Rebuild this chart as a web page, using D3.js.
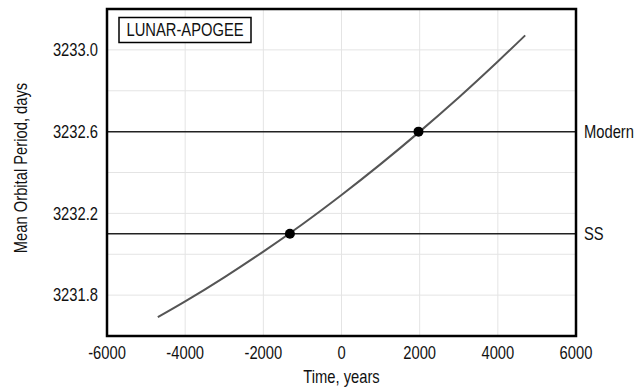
<!DOCTYPE html>
<html>
<head>
    <script src="https://cdn.jsdelivr.net/npm/d3@7/dist/d3.min.js" type="text/javascript"></script>
    <style>
        body { margin: 0; background: #fff; }
        text { font-family: "Liberation Sans", Arial, sans-serif; font-size: 18px; fill: #111; }
    </style>
</head>
<body>
    <div id="viz"></div>
    <script type="text/javascript">

    // curve (year, mean period in days)
    var years   = [-4700, -4000, -3000, -2000, -1000, 0, 1000, 2000, 3000, 4000, 4700];
    var periods = [3231.692, 3231.769, 3231.887, 3232.013, 3232.147, 3232.290,
                   3232.441, 3232.600, 3232.767, 3232.943, 3233.071];

    // reference levels and the points where the curve crosses them
    var refNames  = ["Modern", "SS"];
    var refValues = [3232.6, 3232.1];
    var refYears  = [1970, -1320];

    var xTicks = [-6000, -4000, -2000, 0, 2000, 4000, 6000];
    var yTicks = [3231.8, 3232.2, 3232.6, 3233.0];
    var yGrid  = [3231.8, 3232.0, 3232.2, 3232.4, 3232.6, 3232.8, 3233.0];

    var width = 642, height = 391;
    var pLeft = 107, pRight = 576, pTop = 9, pBottom = 336;
    var narrow = 0.82; // the reference uses a narrow sans

    var x = d3.scaleLinear().domain([-6000, 6000]).range([pLeft, pRight]);
    var y = d3.scaleLinear().domain([3231.6, 3233.2]).range([pBottom, pTop]);

    var svg = d3.select("#viz")
        .append("svg")
        .attr("width", width)
        .attr("height", height);

    function label(g, tx, ty, str, anchor, rot) {
        return g.append("text")
            .attr("transform", "translate(" + tx + "," + ty + ")" + (rot ? " rotate(" + rot + ")" : "") + " scale(" + narrow + ",1)")
            .attr("dy", "0.35em")
            .attr("text-anchor", anchor || "start")
            .text(str);
    }

    // grid
    svg.append("g").selectAll("line")
        .data(xTicks.slice(1, -1))
        .enter().append("line")
        .attr("x1", function(d) { return x(d); })
        .attr("x2", function(d) { return x(d); })
        .attr("y1", pTop).attr("y2", pBottom)
        .style("stroke", "#e4e4e4").style("stroke-width", 1);

    svg.append("g").selectAll("line")
        .data(yGrid)
        .enter().append("line")
        .attr("x1", pLeft).attr("x2", pRight)
        .attr("y1", function(d) { return y(d); })
        .attr("y2", function(d) { return y(d); })
        .style("stroke", "#e4e4e4").style("stroke-width", 1);

    // reference lines
    svg.append("g").selectAll("line")
        .data(refValues)
        .enter().append("line")
        .attr("x1", pLeft).attr("x2", pRight)
        .attr("y1", function(d) { return y(d); })
        .attr("y2", function(d) { return y(d); })
        .style("stroke", "#222").style("stroke-width", 1.5);

    var refG = svg.append("g");
    refNames.forEach(function(d, i) {
        label(refG, pRight + 8, y(refValues[i]), d);
    });

    // curve
    var line = d3.line()
        .x(function(d, i) { return x(years[i]); })
        .y(function(d) { return y(d); })
        .curve(d3.curveCatmullRom);

    svg.append("path")
        .datum(periods)
        .attr("d", line)
        .style("fill", "none")
        .style("stroke", "#555")
        .style("stroke-width", 2);

    svg.append("g").selectAll("circle")
        .data(refValues)
        .enter().append("circle")
        .attr("cx", function(d, i) { return x(refYears[i]); })
        .attr("cy", function(d) { return y(d); })
        .attr("r", 5)
        .style("fill", "#000");

    // frame
    svg.append("rect")
        .attr("x", pLeft).attr("y", pTop)
        .attr("width", pRight - pLeft).attr("height", pBottom - pTop)
        .style("fill", "none").style("stroke", "#000").style("stroke-width", 2.5);

    // tick labels
    var xg = svg.append("g");
    xTicks.forEach(function(d) { label(xg, x(d), 353, d, "middle"); });

    var yg = svg.append("g");
    yTicks.forEach(function(d) { label(yg, 98, y(d), d.toFixed(1), "end"); });

    // axis titles
    label(svg, (pLeft + pRight) / 2, 377, "Time, years", "middle");
    label(svg, 21, 168, "Mean Orbital Period, days", "middle", -90);

    // label box
    svg.append("rect")
        .attr("x", 119).attr("y", 17.5)
        .attr("width", 132).attr("height", 25)
        .style("fill", "#fff").style("stroke", "#000").style("stroke-width", 1.5);

    label(svg, 185, 30, "LUNAR-APOGEE", "middle");

    </script>
</body>
</html>
